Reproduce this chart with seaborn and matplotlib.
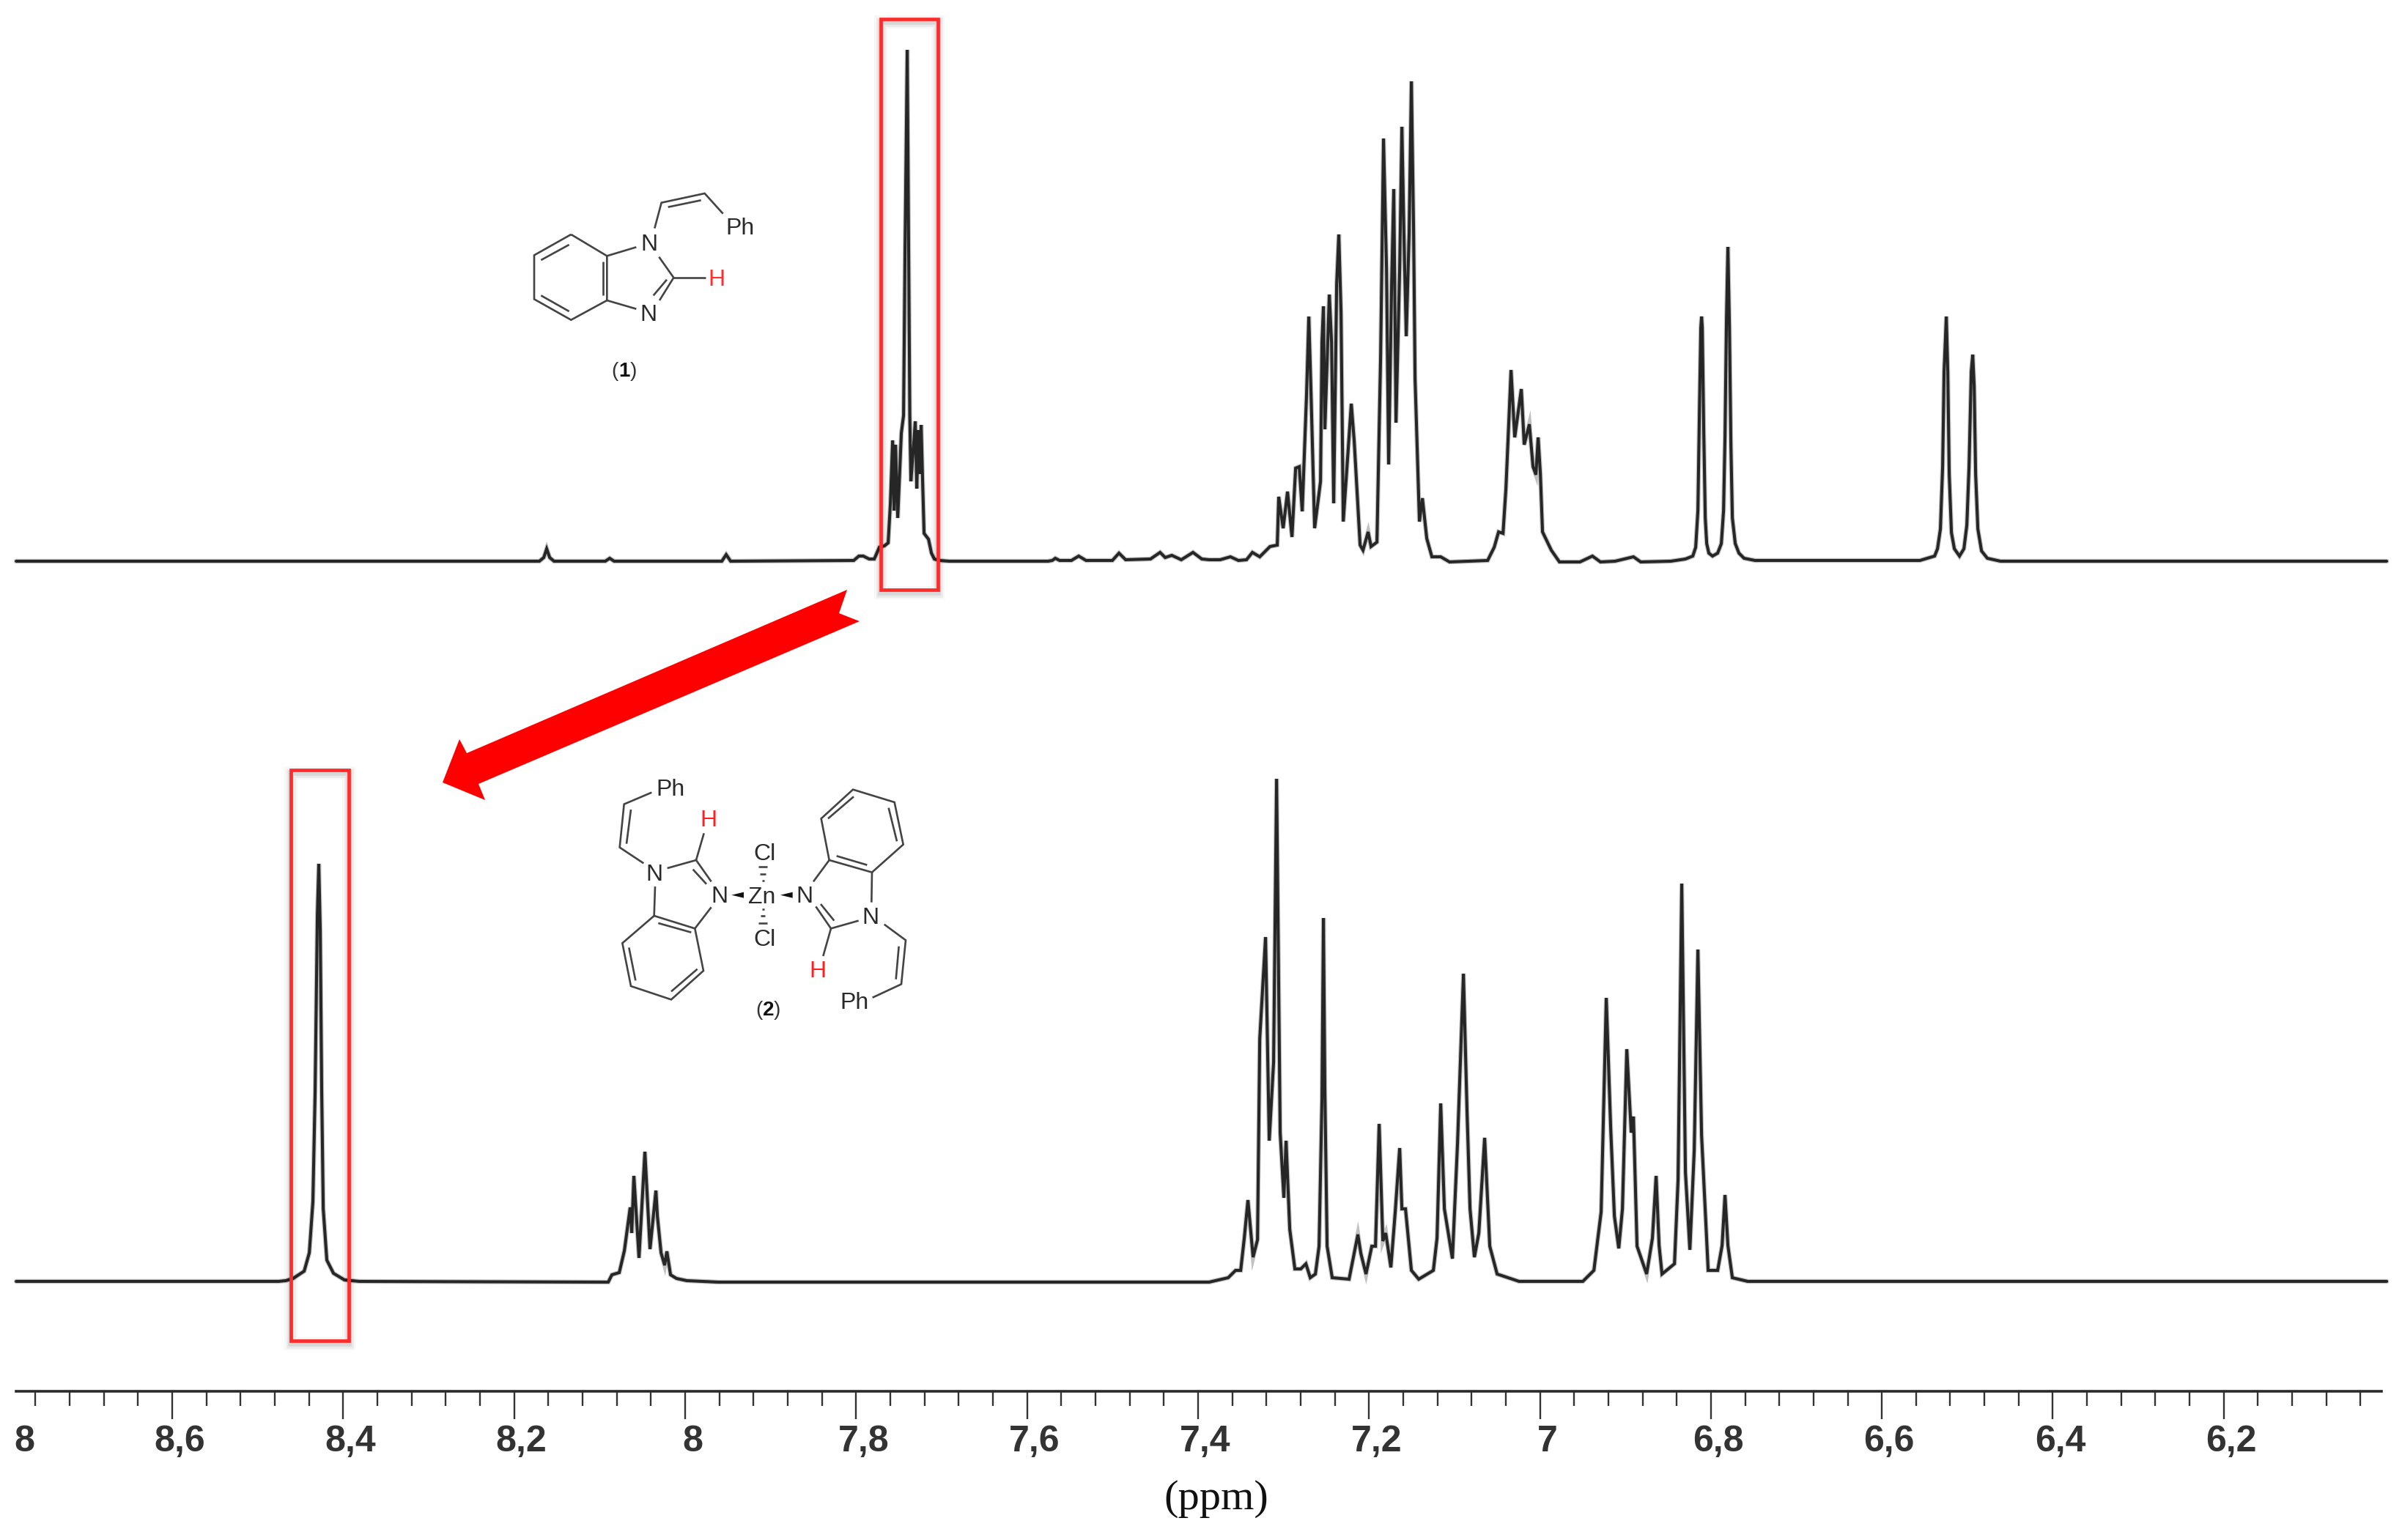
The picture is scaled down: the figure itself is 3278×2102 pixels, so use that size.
import matplotlib
matplotlib.use("Agg")
import matplotlib.pyplot as plt
import pandas as pd
import seaborn as sns
from matplotlib.patches import Polygon, Rectangle
from matplotlib.transforms import ScaledTranslation

# ---------- data ----------
ppm_ligand = [8.7826,8.1706,8.1654,8.1620,8.1585,8.1534,8.0934,8.0883,8.0831,7.9571,7.9520,7.9468,7.8028,7.7968,7.7916,7.7848,7.7788,7.7728,7.7668,7.7625,
 7.7599,7.7573,7.7556,7.7539,7.7513,7.7488,7.7471,7.7445,7.7428,7.7402,7.7385,7.7372,7.7359,7.7333,7.7308,7.7290,7.7273,7.7256,7.7239,7.7222,7.7205,7.7153,7.7119,7.7085,7.7025,7.6913,
 7.5756,7.5705,7.5670,7.5619,7.5482,7.5396,7.5310,7.5002,7.4925,7.4847,7.4556,7.4444,7.4384,7.4307,7.4196,7.4059,7.3956,7.3870,7.3741,7.3621,7.3527,7.3433,7.3364,7.3278,
 7.3158,7.3073,7.3056,7.3004,7.2953,7.2901,7.2858,7.2816,7.2781,7.2730,7.2704,7.2678,7.2636,7.2567,7.2550,7.2533,7.2516,7.2464,7.2438,7.2413,7.2378,7.2353,7.2327,7.2301,7.2207,7.2173,7.2104,7.2070,7.2010,7.1976,7.1907,
 7.1864,7.1830,7.1795,7.1770,7.1735,7.1710,7.1684,7.1641,7.1615,7.1590,7.1564,7.1530,7.1504,7.1478,7.1461,7.1427,7.1410,7.1375,7.1324,7.1264,7.1161,7.1058,7.0612,7.0535,7.0484,7.0432,7.0398,7.0338,7.0295,7.0218,7.0184,7.0124,
 7.0081,7.0047,7.0021,6.9995,6.9970,6.9867,6.9772,6.9532,6.9386,6.9292,6.9121,6.8906,6.8821,6.8469,6.8298,6.8212,6.8178,6.8152,6.8135,6.8118,6.8109,6.8101,6.8084,6.8066,6.8049,
 6.8024,6.7981,6.7921,6.7878,6.7852,6.7835,6.7818,6.7801,6.7783,6.7766,6.7749,6.7715,6.7672,6.7612,6.7483,6.5555,6.5383,6.5349,6.5315,6.5289,6.5272,6.5246,6.5229,6.5212,6.5186,
 6.5152,6.5092,6.5040,6.5006,6.4980,6.4954,6.4937,6.4920,6.4903,6.4877,6.4834,6.4766,6.4612,6.0094]
signal_ligand = [1,1,6,18,6,1,1,5,1,1,10,1,2,8,8,4,4,20,22,26,
 80,166,70,160,60,130,176,200,420,699,420,200,110,150,192,100,180,120,187,110,39,31,12,4,2,1,
 1,2,5,2,2,8,2,2,12,3,4,13,6,9,3,13,4,3,3,7,2,3,13,7,
 21,23,89,46,96,34,128,130,69,230,335,230,46,110,300,349,181,365,300,80,380,447,340,55,216,165,23,16,41,21,27,
 280,578,400,133,380,509,190,400,594,440,308,450,656,450,250,120,55,87,32,7,7,0,2,20,41,39,100,262,170,236,160,188,
 130,119,170,120,41,16,0,0,8,0,1,7,0,1,4,8,20,70,200,320,335,320,180,60,25,
 12,8,12,25,70,170,330,430,320,160,60,25,12,5,2,2,8,18,45,130,260,335,260,120,40,
 18,8,18,50,130,260,283,240,120,45,15,5,1,1]

ppm_complex = [8.7826,8.4757,8.4672,8.4586,8.4457,8.4397,8.4355,8.4329,8.4303,8.4286,8.4269,8.4252,8.4234,8.4192,8.4114,8.3986,8.3814,
 8.0900,8.0857,8.0771,8.0711,8.0643,8.0625,8.0600,8.0540,8.0471,8.0411,8.0342,8.0325,8.0282,8.0240,8.0214,8.0171,8.0102,7.9982,7.9614,
 7.3870,7.3647,7.3561,7.3501,7.3459,7.3416,7.3356,7.3304,7.3278,7.3210,7.3167,7.3116,7.3081,7.3039,7.2996,7.2970,7.2927,7.2867,7.2798,7.2738,7.2687,7.2627,7.2584,7.2550,7.2533,7.2516,7.2490,7.2430,
 7.2233,7.2130,7.2095,7.2035,7.1967,7.1924,7.1881,7.1838,7.1804,7.1744,7.1693,7.1641,7.1615,7.1573,7.1504,7.1418,7.1247,7.1204,7.1161,7.1118,7.1024,7.0964,7.0895,7.0853,7.0818,7.0767,7.0715,7.0647,7.0587,7.0501,
 7.0244,6.9498,6.9369,6.9284,6.9224,6.9172,6.9129,6.9078,6.9035,6.8984,6.8932,6.8906,6.8864,6.8752,6.8684,6.8641,6.8606,6.8572,6.8426,6.8384,6.8341,6.8298,6.8246,6.8195,6.8152,6.8109,6.8032,6.7921,6.7869,6.7835,6.7801,6.7749,6.7569,6.0094]
signal_complex = [1,1,2,5,15,40,110,260,500,571,480,260,100,30,12,3,1,
 0,10,13,43,102,67,145,33,178,45,125,90,40,23,42,10,5,2,0,
 0,6,16,16,60,112,34,58,332,471,193,300,687,204,115,193,72,18,18,25,6,11,49,250,497,260,49,6,
 4,65,39,11,49,49,216,56,67,20,96,183,100,100,16,4,16,60,244,100,32,190,421,233,100,34,67,197,49,11,
 1,1,16,96,388,209,90,46,100,318,204,226,49,11,60,145,50,11,25,140,544,150,44,180,454,200,16,16,50,119,50,6,1,1]

major_ticks = [8.6, 8.4, 8.2, 8.0, 7.8, 7.6, 7.4, 7.2, 7.0, 6.8, 6.6, 6.4, 6.2]
major_labels = ["8,6", "8,4", "8,2", "8", "7,8", "7,6", "7,4", "7,2", "7", "6,8", "6,6", "6,4", "6,2"]
minor_ticks = [8.76, 8.72, 8.68, 8.64, 8.56, 8.52, 8.48, 8.44, 8.36, 8.32, 8.28, 8.24, 8.16, 8.12, 8.08, 8.04,
               7.96, 7.92, 7.88, 7.84, 7.76, 7.72, 7.68, 7.64, 7.56, 7.52, 7.48, 7.44, 7.36, 7.32, 7.28, 7.24,
               7.16, 7.12, 7.08, 7.04, 6.96, 6.92, 6.88, 6.84, 6.76, 6.72, 6.68, 6.64, 6.56, 6.52, 6.48, 6.44,
               6.36, 6.32, 6.28, 6.24, 6.16, 6.12, 6.08, 6.04]
offset_ligand = 1132
offset_complex = 149

# ---------- figure ----------
sns.set_theme(style="white")
W, H = 3278, 2102
AX_L, AX_R, AX_Y = 22, 3250, 1899
fig = plt.figure(figsize=(W / 100, H / 100), dpi=100, facecolor="white")
ax = fig.add_axes([AX_L / W, 1 - AX_Y / H, (AX_R - AX_L) / W, AX_Y / H])
ax.patch.set_alpha(0)

df = pd.concat([
    pd.DataFrame({"ppm": ppm_ligand, "signal": [s + offset_ligand for s in signal_ligand], "spectrum": "1"}),
    pd.DataFrame({"ppm": ppm_complex, "signal": [s + offset_complex for s in signal_complex], "spectrum": "2"}),
])
for lw, col, a in [(4.6, "#777777", 0.45), (2.9, "#262626", 1.0)]:
    sns.lineplot(data=df, x="ppm", y="signal", units="spectrum", estimator=None, sort=False,
                 color=col, alpha=a, linewidth=lw, ax=ax, clip_on=False, solid_joinstyle="miter", zorder=2)

ax.set_xlim(8.7827, 6.0155)
ax.set_ylim(0, AX_Y)
for s in ("top", "left", "right"):
    ax.spines[s].set_visible(False)
ax.spines["bottom"].set_linewidth(2.6)
ax.spines["bottom"].set_color("#2a2a2a")
ax.set_ylabel("")
ax.set_yticks([])
ax.set_xticks(major_ticks)
ax.set_xticklabels(major_labels)
ax.set_xticks(minor_ticks, minor=True)
ax.tick_params(axis="x", which="major", bottom=True, length=27.4, width=1.7, color="#333333", pad=5.5)
ax.tick_params(axis="x", which="minor", bottom=True, length=14.4, width=1.7, color="#333333")
tickfont = ["Liberation Sans", "DejaVu Sans"]
shift = ScaledTranslation(0.10, 0, fig.dpi_scale_trans)
for lab_ in ax.get_xticklabels():
    lab_.set_family(tickfont)
    lab_.set_fontsize(36)
    lab_.set_fontweight("bold")
    lab_.set_color("#333333")
    lab_.set_transform(lab_.get_transform() + shift)
ax.text(11 / (AX_R - AX_L), -46 / AX_Y, "8", transform=ax.transAxes, family=tickfont, fontsize=36,
        fontweight="bold", color="#333333", ha="center", va="top")
ax.set_xlabel("(ppm)", family="Liberation Serif", fontsize=42, color="#111111", va="center")
ax.xaxis.set_label_coords((1660 - AX_L) / (AX_R - AX_L), -(2046 - AX_Y) / AX_Y)

# ---------- annotations in picture pixels ----------
ov = fig.add_axes([0, 0, 1, 1])
ov.set_xlim(0, W)
ov.set_ylim(H, 0)
ov.axis("off")
ov.patch.set_alpha(0)

RED = "#ff2b2b"
for x0, y0, x1, y1 in [(1202, 26, 1280, 805), (397, 1051, 476, 1830)]:
    for lw, a in [(13, 0.03), (9, 0.05), (5.5, 0.08)]:
        ov.add_patch(Rectangle((x0, y0 + 4), x1 - x0, y1 - y0, fill=False, ec="black", lw=lw, alpha=a))
    ov.add_patch(Rectangle((x0, y0), x1 - x0, y1 - y0, fill=False, ec=RED, lw=3.4, joinstyle="miter"))

ov.add_patch(Polygon([(1156, 805), (1145, 837), (1173, 848), (653, 1070), (662, 1092), (604, 1068), (627, 1009), (637, 1028)],
                     closed=True, fc="#ff0000", ec="none"))


def seg(ox, oy, pts, lw=1.9, color="#444444"):
    xs = [ox + p[0] / 3 for p in pts]
    ys = [oy + p[1] / 3 for p in pts]
    ov.plot(xs, ys, color=color, lw=lw, solid_joinstyle="miter", solid_capstyle="butt")


def lab(ox, oy, x, y, s, color="#2a2a2a", size=23, **kw):
    ov.text(ox + x / 3, oy + y / 3 + 1.5, s, color=color, fontsize=size, family="Liberation Sans", ha="center", va="center", **kw)


def numbered(ox, oy, left, mid, right, y, s):
    base = dict(fontsize=20, family="Liberation Sans", va="center")
    ov.text(ox + left / 3, oy + y / 3, "(", color="#333333", ha="right", **base)
    ov.text(ox + mid / 3, oy + y / 3, s, color="#111111", ha="center", fontweight="bold", **base)
    ov.text(ox + right / 3, oy + y / 3, ")", color="#333333", ha="left", **base)


# molecule (1)
o1 = (680, 230)
for pts in [
    [(298, 270), (147, 355), (147, 535), (298, 620), (445, 540), (445, 358), (298, 270)],
    [(175, 375), (290, 312)], [(175, 520), (290, 585)], [(428, 380), (428, 520)],
    [(445, 358), (565, 322)], [(658, 362), (718, 447), (660, 540)], [(690, 455), (635, 520)],
    [(445, 540), (565, 575)], [(718, 447), (850, 447)],
    [(640, 245), (668, 140), (845, 102), (920, 185)], [(695, 158), (830, 130)],
]:
    seg(*o1, pts)
lab(*o1, 618, 308, "N")
lab(*o1, 615, 595, "N")
lab(*o1, 990, 240, "Ph")
lab(*o1, 895, 452, "H", color="#ff3030")
numbered(*o1, 492, 515, 540, 832, "1")

# molecule (2)
o2 = (780, 1030)
for pts in [
    [(328, 155), (215, 203), (197, 380), (295, 445)], [(243, 225), (225, 365)],
    [(392, 465), (510, 432), (572, 520)], [(497, 470), (552, 530)], [(510, 432), (542, 322)],
    [(572, 625), (505, 712), (338, 660), (342, 540)], [(355, 690), (490, 728)],
    [(338, 660), (208, 772), (243, 948), (408, 1003), (540, 885), (505, 712)],
    [(235, 790), (262, 925)], [(408, 970), (515, 878)],
    [(990, 520), (1055, 432), (1230, 482), (1228, 605)], [(1085, 415), (1210, 452)],
    [(1055, 432), (1022, 262), (1152, 143), (1322, 195), (1358, 368), (1230, 482)],
    [(1050, 262), (1155, 172)], [(1298, 218), (1332, 355)],
    [(1000, 622), (1062, 712), (1175, 680)], [(1020, 612), (1075, 680)], [(1062, 712), (1030, 825)],
    [(1280, 695), (1368, 760), (1350, 940), (1232, 995)], [(1340, 785), (1328, 920)],
    [(765, 460), (800, 460)], [(772, 490), (795, 490)], [(780, 515), (790, 515)],
    [(765, 690), (800, 690)], [(773, 660), (793, 660)], [(780, 632), (790, 632)],
]:
    seg(*o2, pts)
for tri in [[(655, 575), (705, 563), (705, 587)], [(855, 575), (905, 563), (905, 587)]]:
    ov.add_patch(Polygon([(o2[0] + a / 3, o2[1] + b / 3) for a, b in tri], closed=True, fc="#111111", ec="none"))
for x, y, s in [(405, 138, "Ph"), (340, 487, "N"), (607, 578, "N"), (780, 580, "Zn"), (790, 405, "Cl"), (790, 755, "Cl"),
                (955, 578, "N"), (1225, 665, "N"), (1158, 1012, "Ph")]:
    lab(*o2, x, y, s)
lab(*o2, 560, 265, "H", color="#ff2020")
lab(*o2, 1008, 885, "H", color="#ff2020")
numbered(*o2, 783, 805, 828, 1048, "2")

fig.savefig("out.png", dpi=100, facecolor="white")
